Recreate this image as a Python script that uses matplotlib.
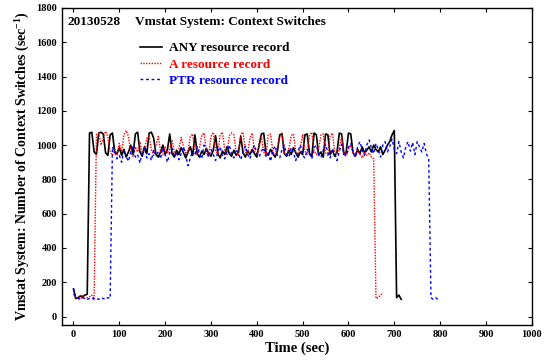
import matplotlib
matplotlib.use("Agg")
import matplotlib.pyplot as plt
import numpy as np

plt.rcParams["mathtext.fontset"] = "custom"
plt.rcParams["mathtext.rm"] = "Liberation Serif:bold"
plt.rcParams["mathtext.bf"] = "Liberation Serif:bold"

# ANY resource record (black), t = 0..715 step 5 s
any_t = np.arange(0, 720, 5)
any_v = [
    160, 105, 110, 120, 115, 125, 130,
    1070, 1075, 960, 945, 1070, 1075, 1065, 955, 940, 1060, 1070, 960, 950,
    985, 940, 975, 930, 960, 1000, 945, 1065, 1075, 960, 935, 990, 950, 1070,
    1075, 1040, 945, 930, 960, 1000, 945, 975, 1065, 950, 930, 970, 945, 985,
    955, 925, 960, 990, 940, 1060, 950, 930, 965, 945, 980, 950, 935, 970,
    1055, 950, 925, 965, 945, 990, 950, 935, 970, 940, 960, 1050, 955, 930,
    965, 945, 975, 950, 930, 1000, 1065, 1070, 955, 940, 975, 950, 930, 965,
    1060, 1065, 950, 935, 970, 945, 985, 955, 930, 960, 945, 1060, 1065, 950,
    935, 1070, 1060, 940, 960, 930, 1065, 1060, 945, 970, 935, 960, 1070, 1065,
    945, 960, 1070, 1065, 955, 935, 975, 950, 990, 955, 970, 990, 960, 1000,
    975, 960, 990, 945, 970, 1000, 1020, 1060, 1085,
    110, 125, 100,
]

# A resource record (red), t = 0..675 step 5 s
a_t = np.arange(0, 680, 5)
a_v = [
    130, 105, 110, 100, 120, 105, 110, 115, 125, 100,
    1060, 1070, 1000, 1040, 1080, 1050, 960, 940, 975, 945, 1010, 960, 1060,
    1085, 1050, 955, 935, 990, 960, 1020, 955, 980, 1040, 1060, 970, 940, 1000,
    1050, 965, 945, 990, 950, 980, 1030, 960, 940, 975, 1045, 990, 955, 970,
    1050, 1065, 965, 945, 985, 1060, 1070, 955, 940, 1050, 1075, 965, 950, 1060,
    1075, 970, 945, 1055, 1070, 1060, 955, 940, 1065, 1075, 960, 950, 1040,
    1070, 965, 945, 990, 1050, 960, 935, 1060, 1065, 960, 945, 985, 1050, 1070,
    960, 940, 980, 1055, 1065, 960, 945, 990, 1060, 965, 945, 1055, 1075, 965,
    945, 980, 1060, 1065, 955, 940, 1055, 1070, 960, 945, 985, 1050, 960, 940,
    975, 1000, 955, 935, 970, 945, 925, 960, 940, 955, 930, 920,
    105, 110, 125, 140,
]

# PTR resource record (blue), t = 0..795 step 5 s
ptr_t = np.arange(0, 800, 5)
ptr_v = [
    165, 110, 105, 100, 110, 105, 100, 105, 110, 100, 105, 100, 110, 105, 100,
    110, 105,
    990, 960, 920, 940, 900, 970, 935, 905, 960, 990, 930, 945, 895, 960, 985,
    925, 950, 910, 975, 940, 960, 920, 985, 945, 900, 955, 980, 930, 960, 915,
    950, 990, 935, 880, 925, 965, 940, 990, 950, 920, 1000, 960, 930, 975, 945,
    910, 960, 990, 940, 920, 965, 1000, 945, 925, 975, 950, 915, 960, 995, 945,
    920, 970, 1000, 950, 930, 965, 985, 935, 955, 905, 970, 995, 940, 925, 975,
    1000, 945, 930, 985, 955, 910, 965, 1000, 940, 925, 975, 950, 920, 985,
    1000, 945, 930, 970, 1005, 955, 925, 980, 950, 910, 965, 1005, 950, 935,
    985, 1010, 955, 930, 990, 1020, 970, 940, 1000, 1030, 985, 950, 1010, 975,
    930, 1000, 1020, 960, 990, 1035, 975, 950, 1020, 960, 925, 990, 1020, 965,
    1015, 945, 1020, 990, 960, 1010, 950, 920,
    110, 100, 110, 100,
]

fig = plt.figure(figsize=(5.46, 3.62), dpi=100)
ax = fig.add_axes([0.1136, 0.102, 0.8604, 0.876])

serif = "Liberation Serif"

ax.plot(any_t, any_v, color="black", lw=1.2, ls="-", label="ANY resource record")
ax.plot(a_t, a_v, color="red", lw=1.0, ls=(0, (1, 1)), label="A resource record")
ax.plot(ptr_t, ptr_v, color="blue", lw=1.0, ls=(0, (2, 2)), label="PTR resource record")

ax.set_xlim(-25, 1000)
ax.set_ylim(-50, 1800)
ax.set_xticks(np.arange(0, 1001, 100))
ax.set_yticks(np.arange(0, 1801, 200))
ax.tick_params(direction="in", top=True, right=True, length=3, width=0.8, labelsize=7.5)
for lab in ax.get_xticklabels() + ax.get_yticklabels():
    lab.set_fontfamily(serif)
    lab.set_fontweight("bold")
for sp in ax.spines.values():
    sp.set_linewidth(1.0)

ax.set_xlabel("Time (sec)", fontfamily=serif, fontweight="bold", fontsize=10.5, labelpad=2)
ax.set_ylabel("Vmstat System: Number of Context Switches (sec$^{-1}$)",
              fontfamily=serif, fontweight="bold", fontsize=10, labelpad=4)

ax.text(0.012, 0.955, "20130528", transform=ax.transAxes, fontfamily=serif,
        fontweight="bold", fontsize=9.5, va="center")
ax.text(0.155, 0.955, "Vmstat System: Context Switches", transform=ax.transAxes,
        fontfamily=serif, fontweight="bold", fontsize=9.5, va="center")

leg = ax.legend(loc="upper left", bbox_to_anchor=(0.165, 0.893), frameon=False,
                handlelength=1.7, handletextpad=0.55, labelspacing=0.32,
                prop={"family": serif, "weight": "bold", "size": 9.5},
                labelcolor="linecolor", borderaxespad=0, borderpad=0)

fig.savefig("out.png", dpi=100)
